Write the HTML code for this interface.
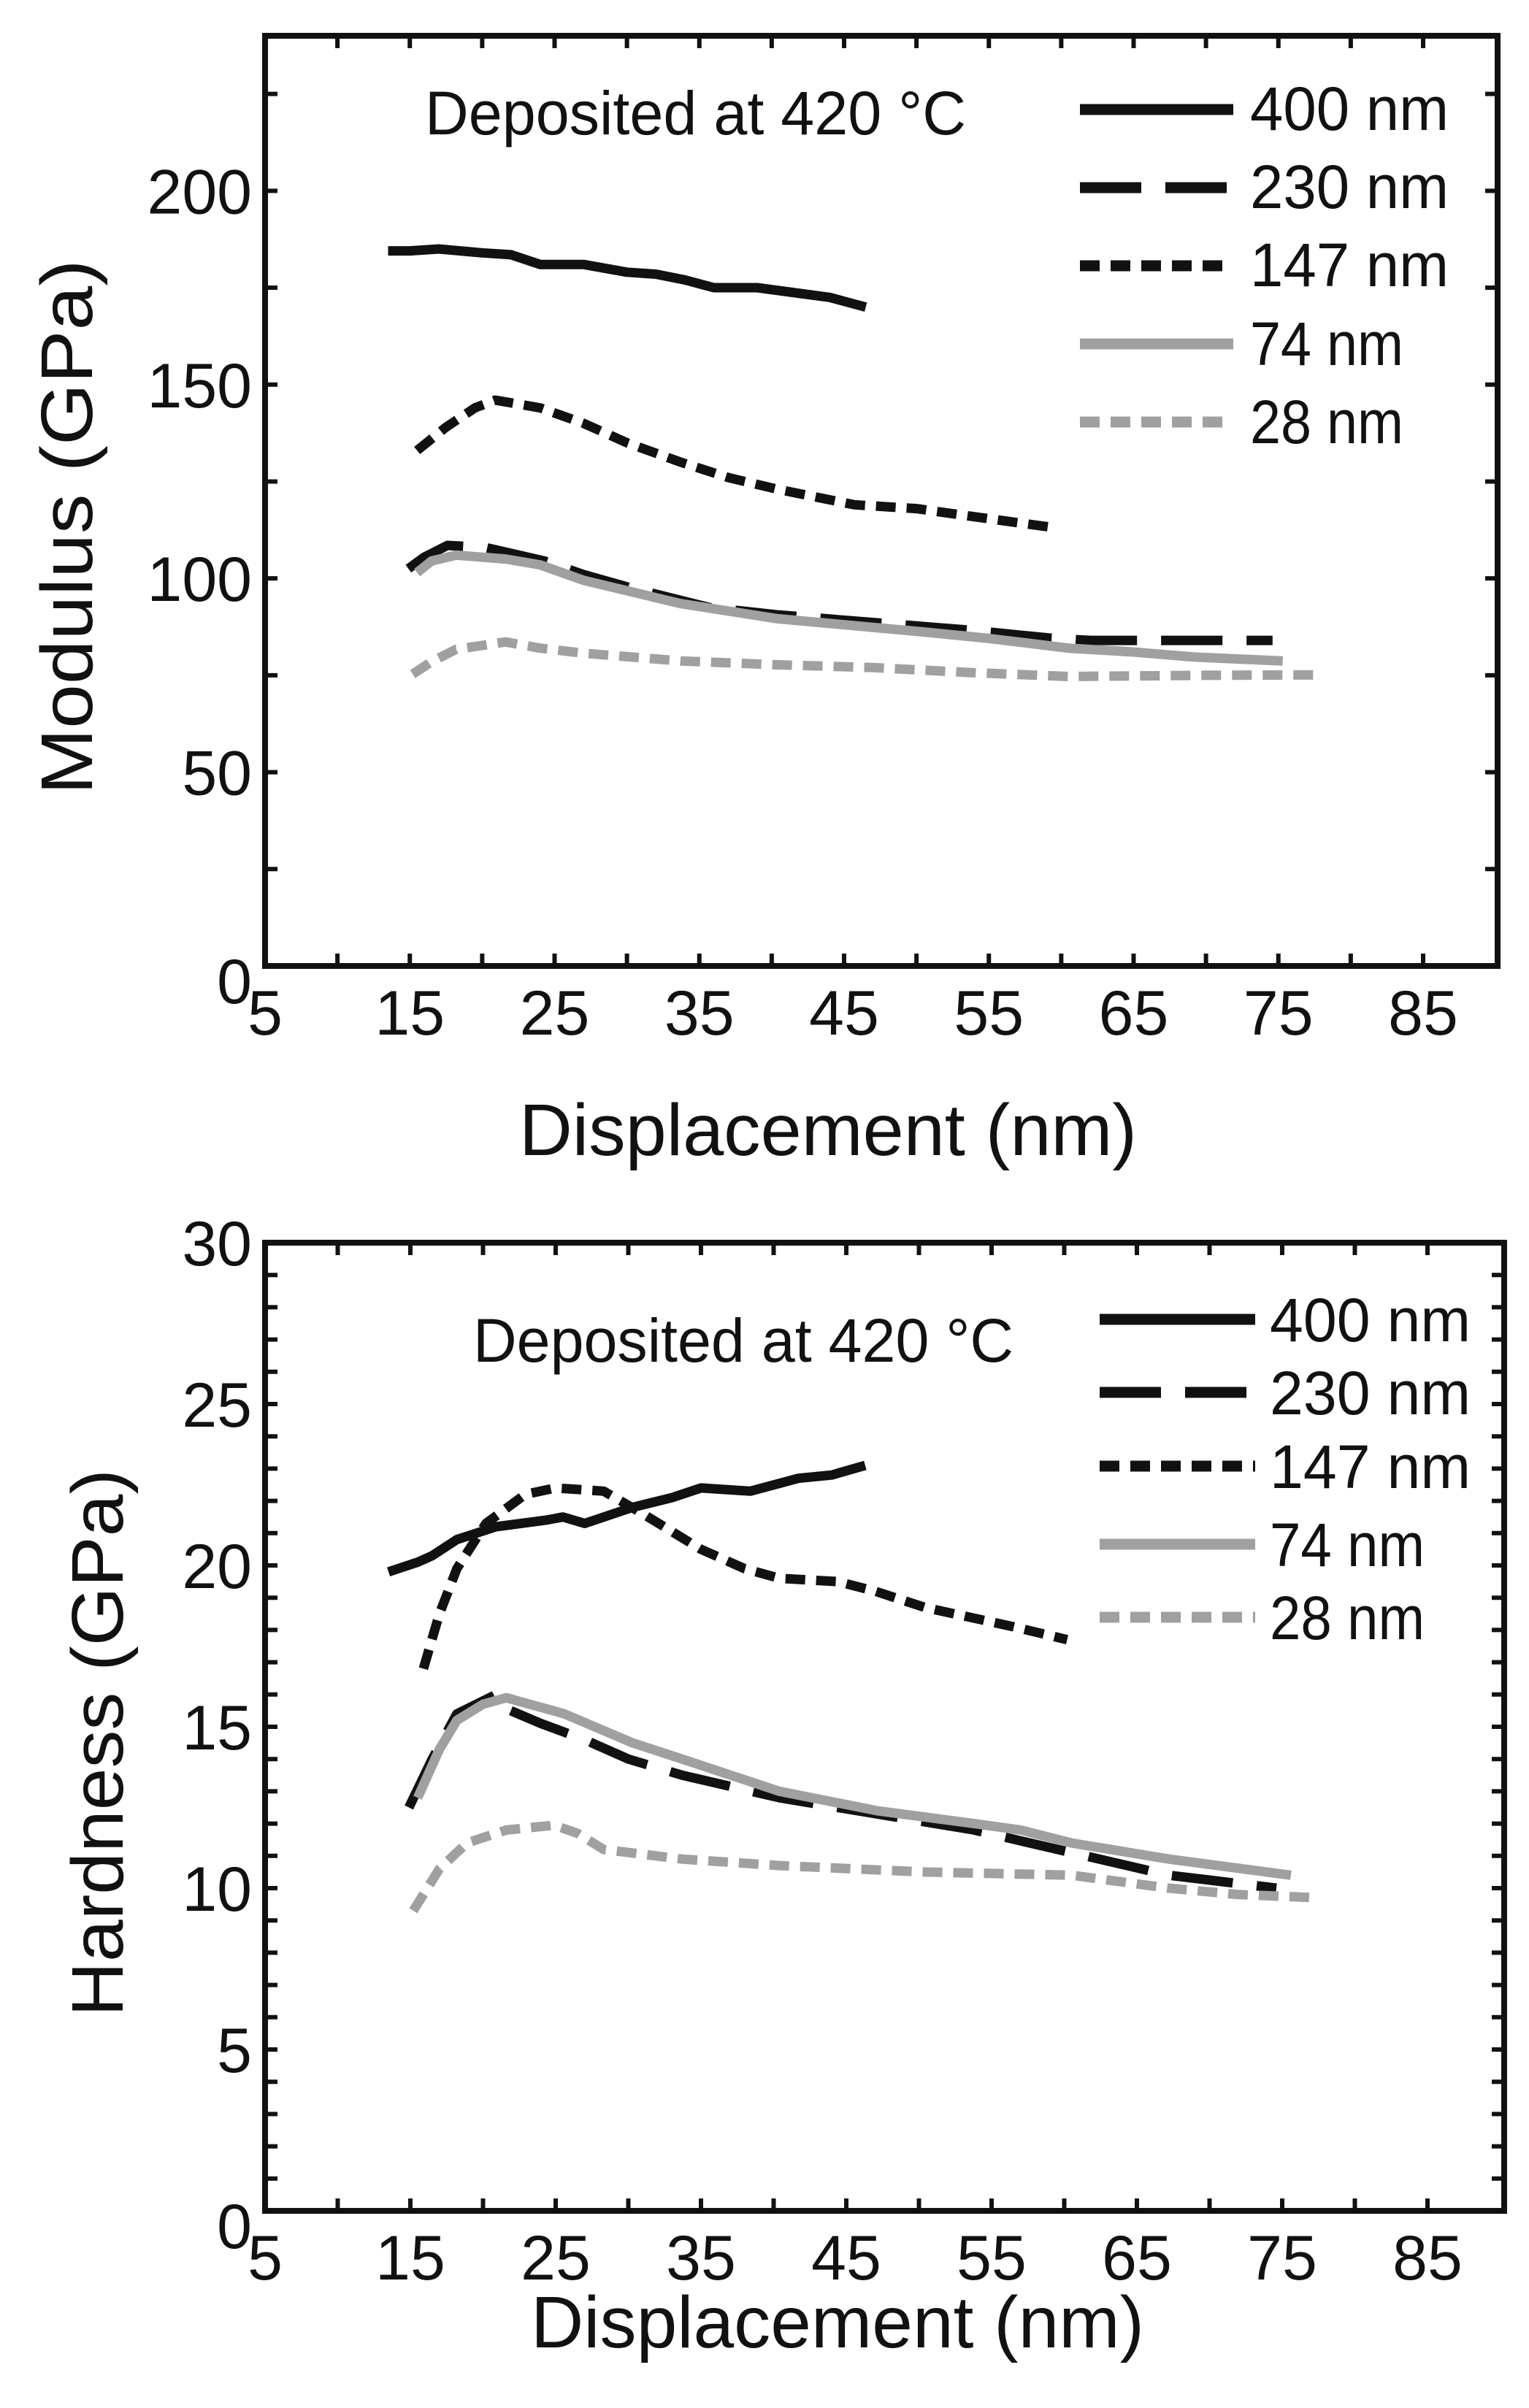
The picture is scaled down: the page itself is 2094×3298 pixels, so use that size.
<!DOCTYPE html>
<html><head><meta charset="utf-8"><style>
html,body{margin:0;padding:0;background:#fff;}
svg{display:block;font-family:"Liberation Sans",sans-serif;}
</style></head><body>
<svg id="s" width="2094" height="3298" viewBox="0 0 2094 3298" xmlns="http://www.w3.org/2000/svg">
<rect width="2094" height="3298" fill="#fff"/>
<g id="ax"></g>
<g id="data"></g>
<g font-size="84" fill="#111">
<text x="582" y="184" textLength="741" lengthAdjust="spacingAndGlyphs">Deposited at 420 °C</text>
<text x="1712" y="178" textLength="272" lengthAdjust="spacingAndGlyphs">400 nm</text>
<text x="1712" y="285" textLength="272" lengthAdjust="spacingAndGlyphs">230 nm</text>
<text x="1712" y="392" textLength="272" lengthAdjust="spacingAndGlyphs">147 nm</text>
<text x="1712" y="500" textLength="210" lengthAdjust="spacingAndGlyphs">74 nm</text>
<text x="1712" y="607" textLength="210" lengthAdjust="spacingAndGlyphs">28 nm</text>
<text x="648" y="1865" textLength="740" lengthAdjust="spacingAndGlyphs">Deposited at 420 °C</text>
<text x="1739" y="1837" textLength="275" lengthAdjust="spacingAndGlyphs">400 nm</text>
<text x="1739" y="1937" textLength="275" lengthAdjust="spacingAndGlyphs">230 nm</text>
<text x="1739" y="2038" textLength="275" lengthAdjust="spacingAndGlyphs">147 nm</text>
<text x="1739" y="2145" textLength="212" lengthAdjust="spacingAndGlyphs">74 nm</text>
<text x="1739" y="2245" textLength="212" lengthAdjust="spacingAndGlyphs">28 nm</text>
</g>
<g font-size="100" fill="#111">
<text x="1134" y="1582" text-anchor="middle" textLength="846" lengthAdjust="spacingAndGlyphs">Displacement (nm)</text>
<text x="1147" y="3215" text-anchor="middle" textLength="840" lengthAdjust="spacingAndGlyphs">Displacement (nm)</text>
<text transform="translate(126,722) rotate(-90)" text-anchor="middle" textLength="733" lengthAdjust="spacingAndGlyphs">Modulus (GPa)</text>
<text transform="translate(168,2387) rotate(-90)" text-anchor="middle" textLength="750" lengthAdjust="spacingAndGlyphs">Hardness (GPa)</text>
</g>
<g id="ticklabels" font-size="86" fill="#111"></g>
</svg>
<script>
var NS="http://www.w3.org/2000/svg";
function el(p,t,a){var e=document.createElementNS(NS,t);for(var k in a)e.setAttribute(k,a[k]);p.appendChild(e);return e;}
var ax=document.getElementById('ax'),dg=document.getElementById('data'),tl=document.getElementById('ticklabels');
var P=[{L:363,R:2051,T:49,B:1323,ymax:240,minor:25,major:50,xs:19.825,labB:1417,
 series:[
 [[13.5,184.5],[15,184.5],[17,185],[20,184],[22,183.5],[24,181],[27,181],[30,179],[32,178.5],[34,177],[36,175],[39,175],[42,173.5],[44,172.5],[46.5,170]],
 [[14.9,102.5],[16,105.5],[17.6,108.5],[20.2,108],[24.3,104.5],[27,101],[30.3,97.5],[35.7,92.5],[40.4,90.6],[47.1,88.6],[53.8,86.6],[59.2,84.6],[62,84],[74.6,84]],
 [[15.5,133],[17.5,139],[19.5,144],[20.9,146],[24,144],[27,140],[30,135],[33.7,130],[37,126],[40.4,123],[45.7,119],[50,118],[53.8,116],[59.7,113]],
 [[15.5,101.5],[16.5,104.5],[18.2,106],[21.6,105],[24,103.5],[27,99.5],[33.7,93.5],[40.4,89.6],[50.4,86.2],[55,84.5],[60.5,82],[65,81],[69.2,79.7],[75.3,78.7]],
 [[15.2,75.3],[16.5,78.5],[18.2,81.7],[21.6,83.6],[24,82],[27,80.7],[33.7,78.7],[40.4,77.7],[47,77],[53.8,75.7],[60.5,74.7],[70,75],[77.6,75.1]]
 ],
 leg:{x1:1479,x2:1689,ys:[150,257,364,471,578]}},
 {L:363,R:2060,T:1702,B:3028,ymax:30,minor:1,major:5,xs:19.9,labB:3122,
 series:[
 [[13.5,19.8],[15.5,20.1],[16.5,20.3],[18.2,20.8],[20.9,21.2],[24.3,21.4],[25.5,21.5],[27,21.3],[30.3,21.8],[33,22.1],[35,22.4],[38.4,22.3],[41.7,22.7],[44,22.8],[46.3,23.1]],
 [[14.9,12.5],[16.5,14],[18.2,15.4],[20.9,16],[21.9,15.5],[24,15.1],[27,14.6],[30,14],[33.7,13.5],[40.4,12.8],[47.1,12.3],[53.8,11.8],[60.5,11.1],[67.2,10.4],[74.6,10.0]],
 [[15.9,16.8],[17,18.5],[18.2,19.9],[20.2,21.3],[22.9,22.2],[25,22.4],[28.3,22.3],[31,21.6],[35,20.5],[38,19.9],[40.4,19.6],[44.4,19.5],[47,19.2],[50.4,18.7],[56.5,18.1],[60.2,17.7]],
 [[15.5,12.8],[17,14.3],[18.2,15.2],[20,15.7],[21.6,15.9],[25.6,15.4],[30.3,14.5],[33.7,14.0],[40.4,13.0],[47.1,12.4],[53.8,12.0],[57,11.8],[60.5,11.4],[67.2,10.9],[75.6,10.4]],
 [[15.2,9.3],[17,10.6],[18.9,11.4],[21.6,11.8],[24.9,11.95],[26.5,11.7],[28.3,11.2],[33.7,10.9],[40.4,10.7],[50.4,10.5],[60.5,10.4],[67.2,10.0],[72,9.8],[77.6,9.7]]
 ],
 leg:{x1:1506,x2:1719,ys:[1807,1907,2008,2115,2215]}}];
var styles=[{c:"#111",w:13,d:""},{c:"#111",w:13,d:"84 33"},{c:"#111",w:13,d:"27 15"},{c:"#a0a0a0",w:13,d:""},{c:"#a0a0a0",w:13,d:"27 15"}];
P.forEach(function(p){
 var X=function(v){return p.L+(v-5)*p.xs;}, Y=function(h){return p.B-h*(p.B-p.T)/p.ymax;};
 el(ax,'rect',{x:p.L,y:p.T,width:p.R-p.L,height:p.B-p.T,fill:'none',stroke:'#111','stroke-width':8});
 for(var v=10;v<=85;v+=5){var x=X(v);el(ax,'line',{x1:x,y1:p.B,x2:x,y2:p.B-17,stroke:'#111','stroke-width':6});el(ax,'line',{x1:x,y1:p.T,x2:x,y2:p.T+17,stroke:'#111','stroke-width':6});}
 for(var v=5;v<=85;v+=10){var t=el(tl,'text',{x:X(v),y:p.labB,'text-anchor':'middle'});t.textContent=v;}
 for(var h=p.minor;h<p.ymax;h+=p.minor){var y=Y(h);el(ax,'line',{x1:p.L,y1:y,x2:p.L+17,y2:y,stroke:'#111','stroke-width':6});el(ax,'line',{x1:p.R,y1:y,x2:p.R-17,y2:y,stroke:'#111','stroke-width':6});}
 for(var h=0;h<=p.ymax;h+=p.major){if(p.ymax==240&&h>200)break;var t=el(tl,'text',{x:p.L-18,y:Y(h)+31+(h==0?20:0),'text-anchor':'end'});t.textContent=h;}
 p.series.forEach(function(s,i){var st=styles[i];var d=s.map(function(q,j){return (j?'L':'M')+X(q[0]).toFixed(1)+' '+Y(q[1]).toFixed(1);}).join(' ');
  var a={d:d,fill:'none',stroke:st.c,'stroke-width':st.w,'stroke-linejoin':'round'};if(st.d)a['stroke-dasharray']=st.d;el(dg,'path',a);
  var ly=p.leg.ys[i];var b={x1:p.leg.x1,y1:ly,x2:p.leg.x2,y2:ly,stroke:st.c,'stroke-width':15};if(st.d)b['stroke-dasharray']=st.d;el(dg,'line',b);});
});
</script>
</body></html>
